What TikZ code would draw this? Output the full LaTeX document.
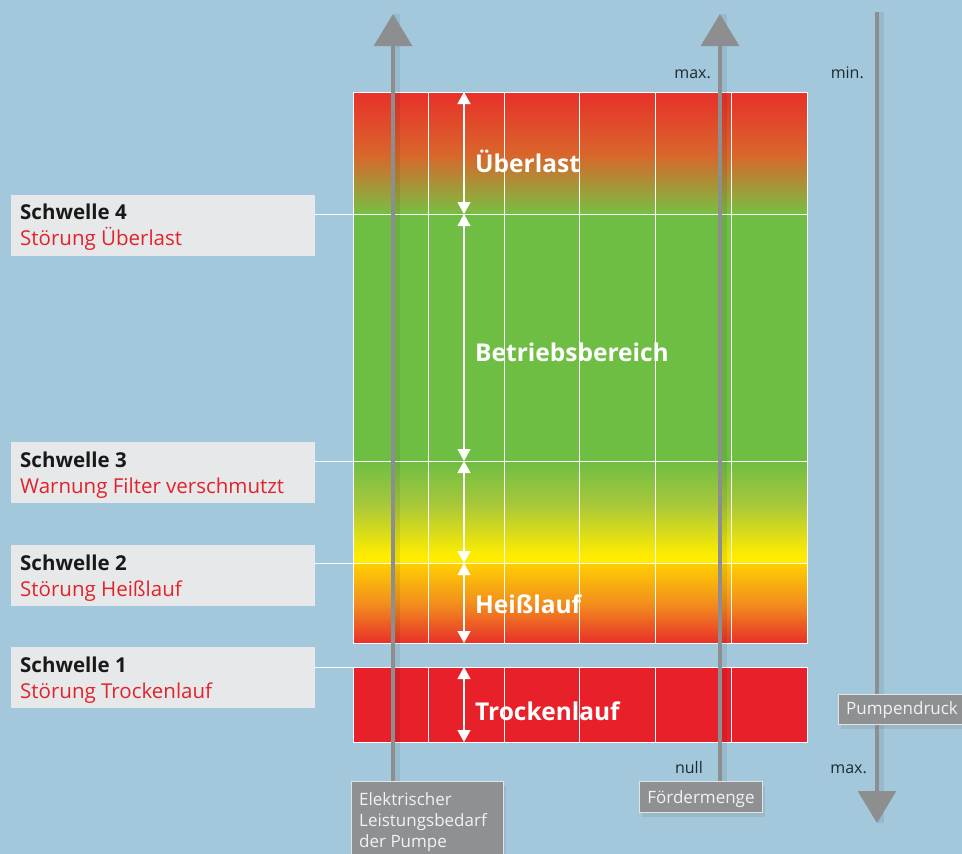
\documentclass[tikz,border=0pt]{standalone}
\usepackage{fontspec}
\setmainfont{Open Sans}
\usetikzlibrary{arrows.meta,shadows}
\definecolor{bg}{HTML}{A3C8DC}
\definecolor{boxgray}{HTML}{E6E8EA}
\definecolor{txtred}{HTML}{E2232A}
\definecolor{axgray}{HTML}{8C8E90}
\definecolor{lblgray}{HTML}{8E9092}
\definecolor{cRed}{HTML}{E8302A}
\definecolor{cOrange}{HTML}{D9662B}
\definecolor{cGreen}{HTML}{6FBE44}
\definecolor{cOlive}{HTML}{A8C83A}
\definecolor{cYellow}{HTML}{FFEC00}
\definecolor{cGold}{HTML}{FFD000}
\definecolor{cOr2}{HTML}{F28C1E}
\definecolor{cBand}{HTML}{E8202A}
\definecolor{dark}{HTML}{1E2A33}
\begin{document}
\begin{tikzpicture}[x=1pt,y=-1pt,
  schbox/.style={fill=boxgray, minimum width=304pt, minimum height=61pt, anchor=north west, inner sep=0pt},
  schtitle/.style={anchor=base west, inner sep=0pt, font=\fontsize{20.5}{24}\selectfont\bfseries, text=black!90},
  schsub/.style={anchor=base west, inner sep=0pt, font=\fontsize{20.5}{24}\selectfont, text=txtred},
  gridline/.style={white, line width=0.8pt},
  axis/.style={axgray, line width=3.2pt},
  axtip/.style={-{Triangle[width=38pt,length=32pt]}},
  wdouble/.style={white, line width=1.3pt, {Triangle[width=13pt,length=12pt]}-{Triangle[width=13pt,length=12pt]}},
  zone/.style={white, font=\fontsize{24.5}{28}\selectfont\bfseries, anchor=base west, inner sep=0pt},
  small/.style={dark, font=\fontsize{16}{18}\selectfont, inner sep=0pt, anchor=base east},
  gbox/.style={fill=lblgray, draw=white!75!lblgray, line width=1.2pt, anchor=north west, inner sep=0pt,
     drop shadow={shadow xshift=2pt, shadow yshift=-4pt, opacity=0.22}},
  gtxt/.style={text=white!95!black, font=\fontsize{17}{21}\selectfont, inner sep=0pt, anchor=base west}
]
\fill[bg] (0,0) rectangle (962,854);
\useasboundingbox (0,0) rectangle (962,854);

% chart fills
\shade[top color=cRed, bottom color=cOrange] (353,92) rectangle (807,155);
\shade[top color=cOrange, bottom color=cGreen!85!cOlive] (353,154.5) rectangle (807,214);
\fill[cGreen] (353,214) rectangle (807,461);
\shade[top color=cGreen, bottom color=cOlive] (353,461) rectangle (807,505);
\shade[top color=cOlive, bottom color=cYellow] (353,504.5) rectangle (807,555);
\fill[cYellow] (353,554.5) rectangle (807,563);
\shade[top color=cGold, bottom color=cOr2] (353,563) rectangle (807,605);
\shade[top color=cOr2, bottom color=cRed] (353,604.5) rectangle (807,643);
\fill[cBand] (353,667) rectangle (807,742);

% grid
\foreach \x in {428,504,579,655,731}{
  \draw[gridline] (\x,92) -- (\x,643);
  \draw[gridline] (\x,667) -- (\x,742);
}
\draw[gridline] (353,92) rectangle (807,643);
\draw[gridline] (353,667) rectangle (807,742);

% threshold boxes
\node[schbox] (s4) at (11,195) {};
\node[schbox] (s3) at (11,442) {};
\node[schbox] (s2) at (11,545) {};
\node[schbox] (s1) at (11,647) {};
\node[schtitle] (t4) at (20,219) {Schwelle 4};
\node[schsub] (u4) at (20,245) {Störung Überlast};
\node[schtitle] (t3) at (20,467) {Schwelle 3};
\node[schsub] (u3) at (20,493) {Warnung Filter verschmutzt};
\node[schtitle] (t2) at (20,570) {Schwelle 2};
\node[schsub] (u2) at (20,596) {Störung Heißlauf};
\node[schtitle] (t1) at (20,672) {Schwelle 1};
\node[schsub] (u1) at (20,698) {Störung Trockenlauf};
\coordinate (c4) at (807,214);
\coordinate (c3) at (807,461);
\coordinate (c2) at (807,563);
\coordinate (c1) at (353,667);
\draw[gridline] (s4.east |- c4) -- (c4);
\draw[gridline] (s3.east |- c3) -- (c3);
\draw[gridline] (s2.east |- c2) -- (c2);
\draw[gridline] (s1.east |- c1) -- (c1);

% gray axes
\coordinate (a1b) at (393,781);
\coordinate (a1t) at (393,14);
\coordinate (a2b) at (720,781);
\coordinate (a2t) at (720,14);
\coordinate (a3t) at (877,12);
\coordinate (a3b) at (877,823);
\foreach \p/\q in {a1b/a1t,a2b/a2t,a3t/a3b}{
  \draw[black, opacity=0.07, line width=6pt, transform canvas={xshift=4pt}] (\p) -- (\q);
}
\draw[axis, axtip] (a1b) -- (a1t);
\draw[axis, axtip] (a2b) -- (a2t);
\draw[axis, axtip] (a3t) -- (a3b);

% white double arrows
\coordinate (w0) at (464,92);
\coordinate (w1) at (464,214);
\coordinate (w2) at (464,461);
\coordinate (w3) at (464,563);
\coordinate (w4) at (464,643);
\coordinate (w5) at (464,667);
\coordinate (w6) at (464,742);
\draw[wdouble] (w0) -- (w1);
\draw[wdouble] (w1) -- (w2);
\draw[wdouble] (w2) -- (w3);
\draw[wdouble] (w3) -- (w4);
\draw[wdouble] (w5) -- (w6);

% zone labels
\node[zone] (z1) at (475,172) {Überlast};
\node[zone] (z2) at (475,361) {Betriebsbereich};
\node[zone] (z3) at (475,613) {Heißlauf};
\node[zone] (z4) at (475,720) {Trockenlauf};

% axis end labels
\node[small] (mx1) at (711,78) {max.};
\node[small] (mn1) at (864,78) {min.};
\node[small] (nl) at (703,773) {null};
\node[small] (mx2) at (867,773) {max.};

% gray label boxes
\node[gbox, minimum width=152pt, minimum height=80pt] (el) at (351,781) {};
\node[gtxt] (el1) at (359,805) {Elektrischer};
\node[gtxt] (el2) at (359,826) {Leistungsbedarf};
\node[gtxt] (el3) at (359,847) {der Pumpe};
\node[gbox, minimum width=123pt, minimum height=31pt] (fm) at (639,781) {};
\node[gtxt, anchor=base] (fmt) at (701,803) {Fördermenge};
\node[gbox, minimum width=130pt, minimum height=30pt] (pd) at (838,694) {};
\node[gtxt] (pdt) at (846,714) {Pumpendruck};
\end{tikzpicture}
\end{document}
